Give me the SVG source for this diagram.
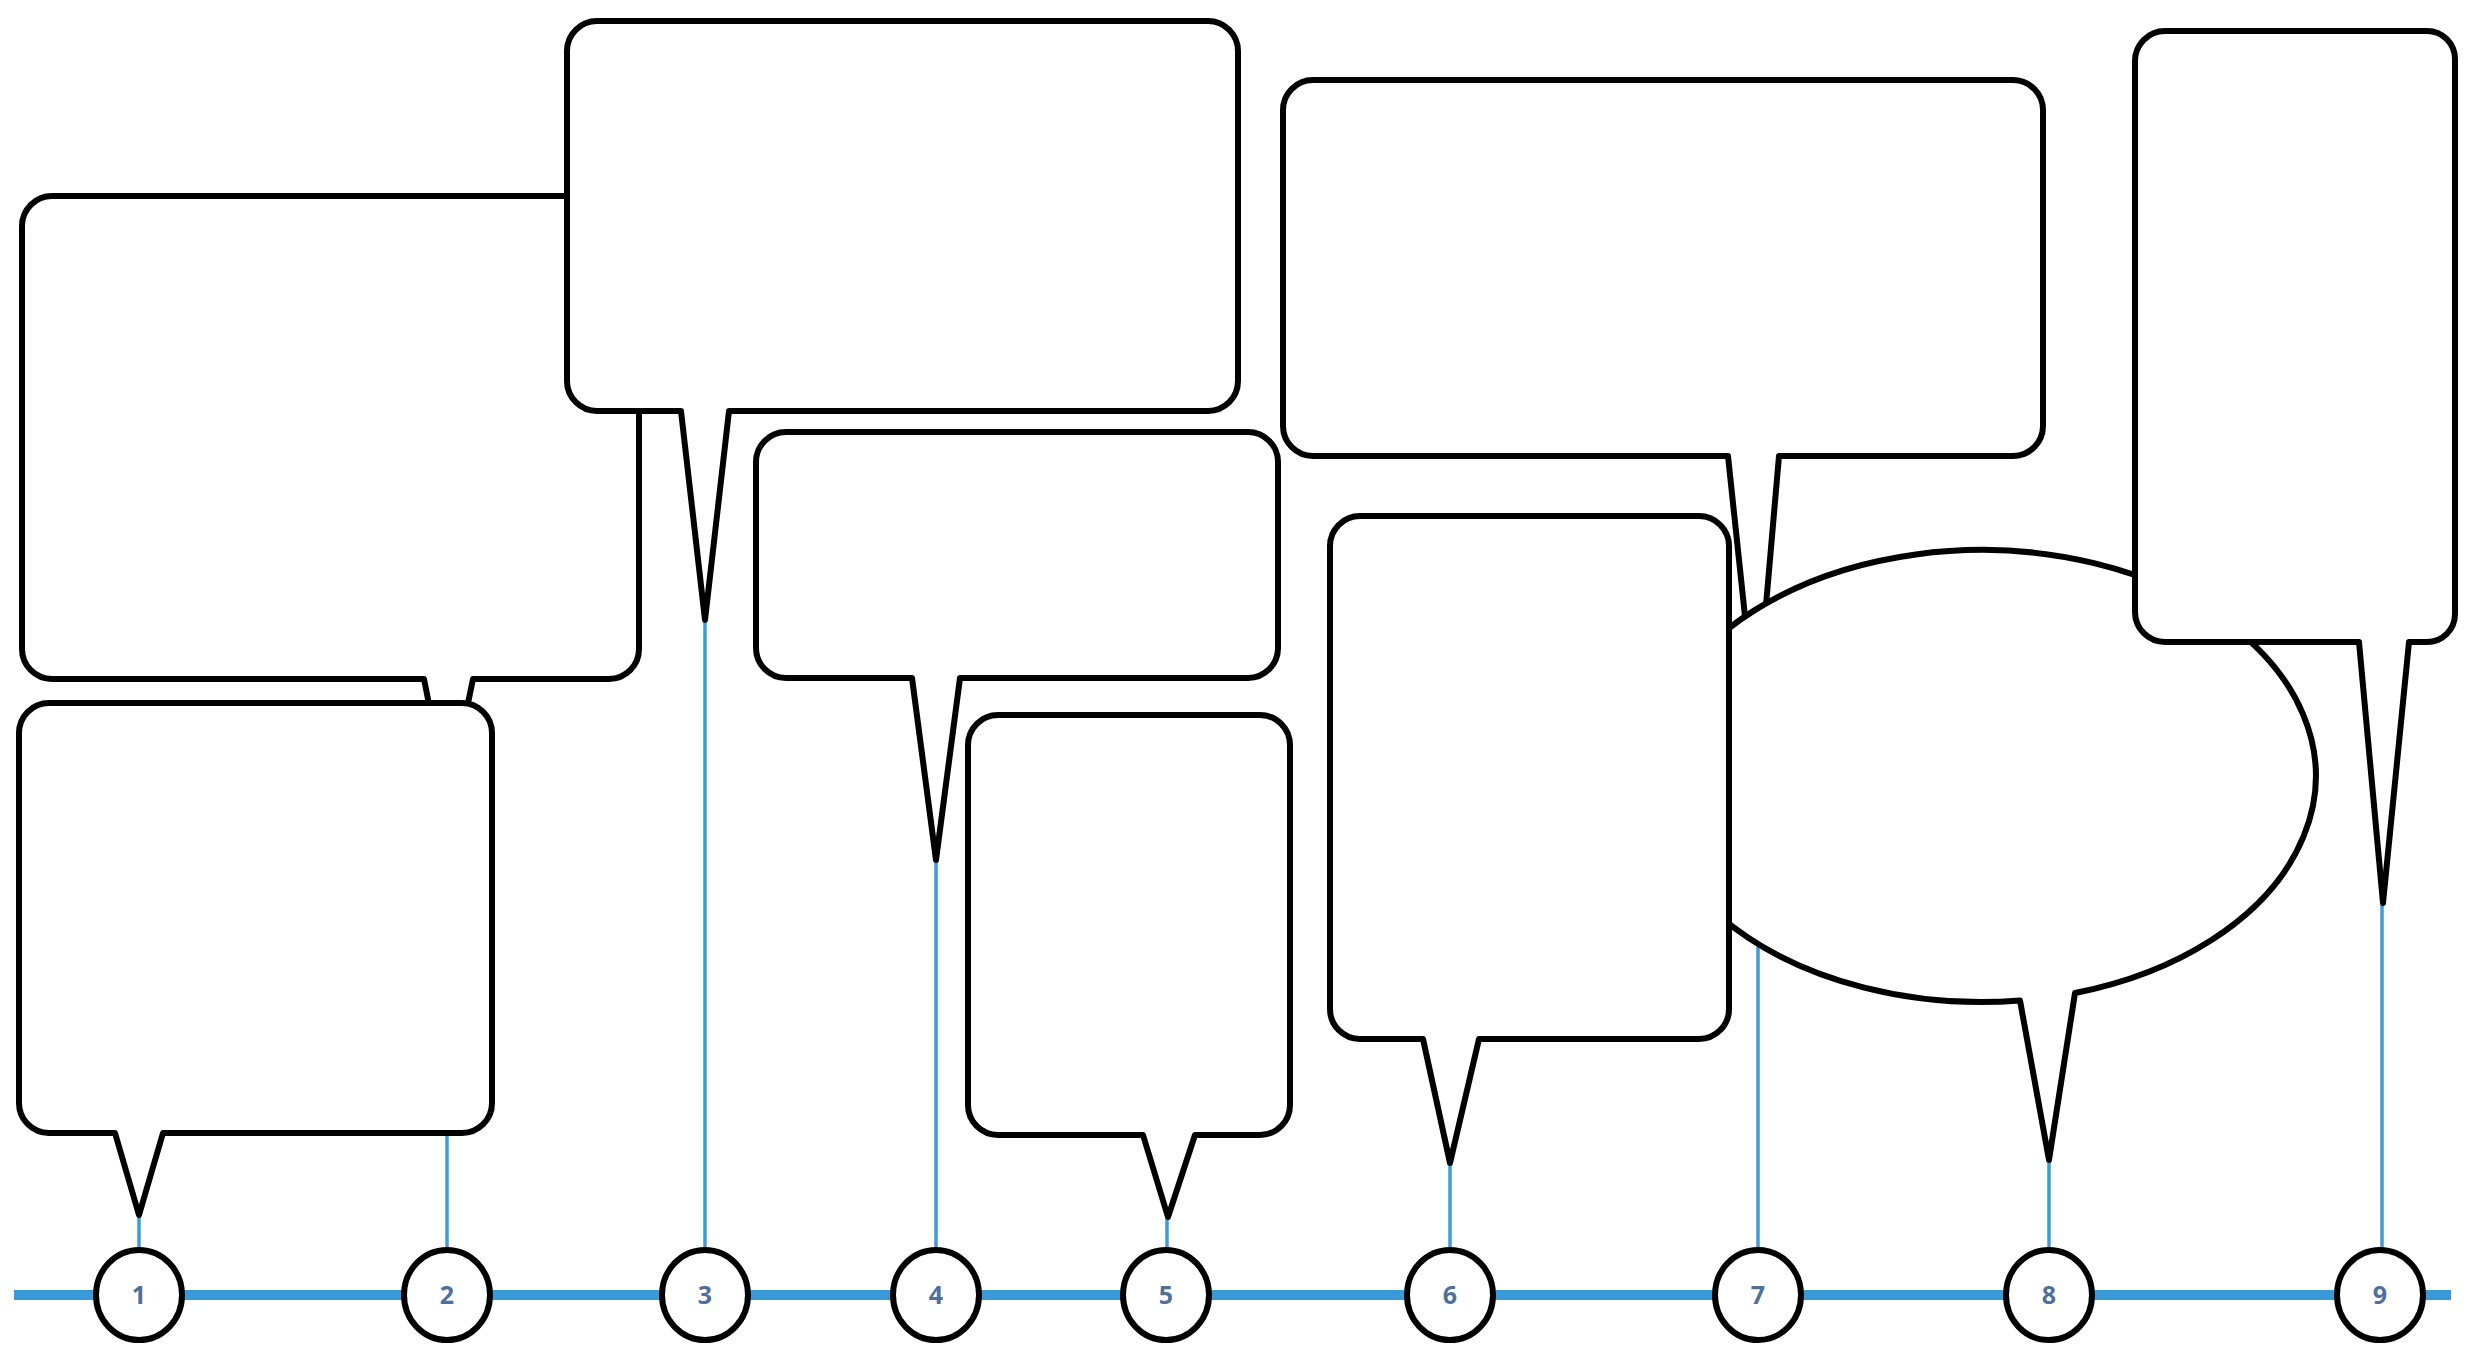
<svg xmlns="http://www.w3.org/2000/svg" width="2470" height="1348" viewBox="0 0 2470 1348">
<style>
.bubble{fill:#fff;stroke:#000;stroke-width:6;stroke-linejoin:round}
.lead{stroke:#3d9cd8;stroke-width:3.5;fill:none}
.axis{stroke:#3a9ad8;stroke-width:10;fill:none}
.dot{fill:#fff;stroke:#000;stroke-width:6}
.num{font-family:"Open Sans","Liberation Sans",sans-serif;font-weight:700;font-size:25px;fill:#4f7099;text-anchor:middle}
</style>
<rect width="2470" height="1348" fill="#fff"/>
<g id="connectors">
<line class="axis" x1="14" y1="1295" x2="2451" y2="1295"/>
<line class="lead" x1="139" y1="1215" x2="139" y2="1251"/>
<line class="lead" x1="447" y1="800" x2="447" y2="1251"/>
<line class="lead" x1="705" y1="620" x2="705" y2="1251"/>
<line class="lead" x1="936" y1="860" x2="936" y2="1251"/>
<line class="lead" x1="1167" y1="1217" x2="1167" y2="1251"/>
<line class="lead" x1="1450" y1="1163" x2="1450" y2="1251"/>
<line class="lead" x1="1758" y1="720" x2="1758" y2="1251"/>
<line class="lead" x1="2049" y1="1160" x2="2049" y2="1251"/>
<line class="lead" x1="2382" y1="903" x2="2382" y2="1251"/>
</g>
<g id="bubble2"><path class="bubble" d="M52 196 H609 A30 30 0 0 1 639 226 V649 A30 30 0 0 1 609 679 H473 L448 800 L424 679 H52 A30 30 0 0 1 22 649 V226 A30 30 0 0 1 52 196 Z"/></g>
<g id="bubble3"><path class="bubble" d="M597 21 H1208 A30 30 0 0 1 1238 51 V381 A30 30 0 0 1 1208 411 H729 L705 620 L681 411 H597 A30 30 0 0 1 567 381 V51 A30 30 0 0 1 597 21 Z"/></g>
<g id="bubble1"><path class="bubble" d="M49 703 H462 A30 30 0 0 1 492 733 V1103 A30 30 0 0 1 462 1133 H163 L139 1215 L115 1133 H49 A30 30 0 0 1 19 1103 V733 A30 30 0 0 1 49 703 Z"/></g>
<g id="bubble4"><path class="bubble" d="M786 432 H1248 A30 30 0 0 1 1278 462 V648 A30 30 0 0 1 1248 678 H960 L936 860 L912 678 H786 A30 30 0 0 1 756 648 V462 A30 30 0 0 1 786 432 Z"/></g>
<g id="bubble5"><path class="bubble" d="M998 715 H1260 A30 30 0 0 1 1290 745 V1105 A30 30 0 0 1 1260 1135 H1195 L1168 1217 L1143 1135 H998 A30 30 0 0 1 968 1105 V745 A30 30 0 0 1 998 715 Z"/></g>
<g id="bubble7"><path class="bubble" d="M1313 80 H2013 A30 30 0 0 1 2043 110 V426 A30 30 0 0 1 2013 456 H1779 L1756 720 L1728 456 H1313 A30 30 0 0 1 1283 426 V110 A30 30 0 0 1 1313 80 Z"/></g>
<g id="bubble8"><path class="bubble" d="M2075 993 A334 226 0 1 0 2020 1000.5 L2049 1160 Z"/></g>
<g id="bubble6"><path class="bubble" d="M1360 516 H1699 A30 30 0 0 1 1729 546 V1009 A30 30 0 0 1 1699 1039 H1479 L1450 1163 L1423 1039 H1360 A30 30 0 0 1 1330 1009 V546 A30 30 0 0 1 1360 516 Z"/></g>
<g id="bubble9"><path class="bubble" d="M2165 31 H2427 A28 28 0 0 1 2455 59 V614 A28 28 0 0 1 2427 642 H2409 L2383 903 L2359 642 H2165 A30 30 0 0 1 2135 612 V61 A30 30 0 0 1 2165 31 Z"/></g>
<g id="step1"><ellipse class="dot" cx="139" cy="1295" rx="43" ry="45"/><text class="num" x="139" y="1304">1</text></g>
<g id="step2"><ellipse class="dot" cx="447" cy="1295" rx="43" ry="45"/><text class="num" x="447" y="1304">2</text></g>
<g id="step3"><ellipse class="dot" cx="705" cy="1295" rx="43" ry="45"/><text class="num" x="705" y="1304">3</text></g>
<g id="step4"><ellipse class="dot" cx="936" cy="1295" rx="43" ry="45"/><text class="num" x="936" y="1304">4</text></g>
<g id="step5"><ellipse class="dot" cx="1166" cy="1295" rx="43" ry="45"/><text class="num" x="1166" y="1304">5</text></g>
<g id="step6"><ellipse class="dot" cx="1450" cy="1295" rx="43" ry="45"/><text class="num" x="1450" y="1304">6</text></g>
<g id="step7"><ellipse class="dot" cx="1758" cy="1295" rx="43" ry="45"/><text class="num" x="1758" y="1304">7</text></g>
<g id="step8"><ellipse class="dot" cx="2049" cy="1295" rx="43" ry="45"/><text class="num" x="2049" y="1304">8</text></g>
<g id="step9"><ellipse class="dot" cx="2380" cy="1295" rx="43" ry="45"/><text class="num" x="2380" y="1304">9</text></g>
</svg>
